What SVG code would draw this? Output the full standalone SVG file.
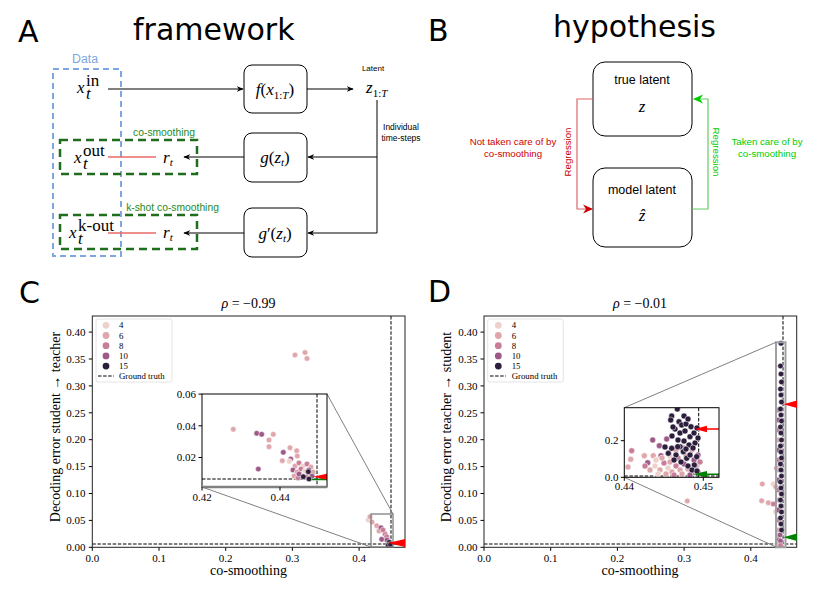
<svg xmlns="http://www.w3.org/2000/svg" width="830" height="596" viewBox="0 0 830 596">
<style>
.big{font-family:"DejaVu Sans",sans-serif;font-size:30px;fill:#000}
.sans{font-family:"Liberation Sans",Arial,sans-serif}
.m{font-family:"Liberation Serif","Times New Roman",serif;font-size:17px}
.i{font-style:italic}
.s{font-size:11px}
.box{fill:#fff;stroke:#000;stroke-width:1}
.ln{fill:none;stroke:#000;stroke-width:1}
.tk{font-family:"Liberation Serif","Times New Roman",serif;font-size:11px;fill:#000}
.lg{font-family:"Liberation Serif","Times New Roman",serif;font-size:8.8px;fill:#000}
.ax{font-family:"Liberation Serif","Times New Roman",serif;font-size:14px;fill:#000}
.frame{fill:none;stroke:#222;stroke-width:1}
.dash{fill:none;stroke:#000;stroke-width:1;stroke-dasharray:3.5 1.6}
.zoom{fill:none;stroke:#808080;stroke-width:1}
.c4{fill:#EDD1CB}
.c6{fill:#DFA7AB}
.c8{fill:#C87E98}
.c10{fill:#9D5A88}
.c15{fill:#2D1E3E}
.pts circle{stroke:#fff;stroke-width:0.5}
</style>
<defs>
<marker id="ah" viewBox="0 0 10 10" refX="9" refY="5" markerWidth="7" markerHeight="7" markerUnits="userSpaceOnUse" orient="auto"><path d="M0,1 L10,5 L0,9 L3,5 Z" fill="#000"/></marker>
<marker id="ahR" viewBox="0 0 10 10" refX="9" refY="5" markerWidth="10" markerHeight="10" markerUnits="userSpaceOnUse" orient="auto"><path d="M0,0.5 L10,5 L0,9.5 L3,5 Z" fill="#CC0000"/></marker>
<marker id="ahG" viewBox="0 0 10 10" refX="9" refY="5" markerWidth="10" markerHeight="10" markerUnits="userSpaceOnUse" orient="auto"><path d="M0,0.5 L10,5 L0,9.5 L3,5 Z" fill="#00CC00"/></marker>
<clipPath id="clipC"><rect x="92.3" y="316" width="312.7" height="231.3"/></clipPath>
<clipPath id="clipD"><rect x="484" y="316" width="312.7" height="231.3"/></clipPath>
<clipPath id="clipCi"><rect x="202" y="394" width="125" height="93"/></clipPath>
<clipPath id="clipDi"><rect x="624.3" y="407.7" width="94.7" height="69.6"/></clipPath>
</defs>
<rect width="830" height="596" fill="#fff"/>

<!-- Panel A -->
<text class="big" x="18" y="42">A</text>
<text class="big" x="133" y="40" font-size="31">framework</text>

<g id="data-group">
<rect x="53" y="69" width="68" height="187" fill="none" stroke="#7EA6E0" stroke-width="2" stroke-dasharray="6 4"/>
<text class="sans" x="85" y="63" font-size="12.3" fill="#7EA6E0" text-anchor="middle">Data</text>
</g>
<g id="cosmooth-group">
<rect x="60" y="140" width="137" height="34" fill="none" stroke="#1E6E1E" stroke-width="2.5" stroke-dasharray="8 5"/>
<text class="sans" x="164" y="136" font-size="10.3" fill="#1E8A1E" text-anchor="middle">co-smoothing</text>
</g>
<g id="kshot-group">
<rect x="60" y="215" width="137" height="34" fill="none" stroke="#1E6E1E" stroke-width="2.5" stroke-dasharray="8 5"/>
<text class="sans" x="172.5" y="211" font-size="10.3" fill="#1E8A1E" text-anchor="middle">k-shot co-smoothing</text>
</g>

<g id="connectors-A">
<path class="ln" d="M108,89 H243" marker-end="url(#ah)"/>
<path class="ln" d="M307,89 H353" marker-end="url(#ah)"/>
<path class="ln" d="M377,100 V233 H308" marker-end="url(#ah)"/>
<path class="ln" d="M377,157 H308" marker-end="url(#ah)"/>
<path class="ln" d="M244,157 H184" marker-end="url(#ah)"/>
<path class="ln" d="M244,233 H184" marker-end="url(#ah)"/>
<path d="M108,157 H156 M108,233 H156" fill="none" stroke="#EA6B66" stroke-width="1.3"/>
</g>

<g id="x-in">
<text class="m i" x="77" y="93">x</text>
<text class="m i" x="86" y="98.5" font-size="10.5">t</text>
<text class="m" x="86" y="85.5" font-size="11">in</text>
</g>
<g id="x-out">
<text class="m i" x="74" y="163">x</text>
<text class="m i" x="83" y="168.5" font-size="10.5">t</text>
<text class="m" x="83" y="155.5" font-size="11">out</text>
</g>
<g id="x-kout">
<text class="m i" x="69" y="238">x</text>
<text class="m i" x="78" y="243.5" font-size="10.5">t</text>
<text class="m" x="78" y="230.5" font-size="11">k-out</text>
</g>
<g id="r1"><text class="m" x="163" y="163"><tspan class="i">r</tspan><tspan class="s i" dy="3">t</tspan></text></g>
<g id="r2"><text class="m" x="163" y="238"><tspan class="i">r</tspan><tspan class="s i" dy="3">t</tspan></text></g>

<g id="f-node">
<rect class="box" x="244" y="65" width="63" height="48" rx="8"/>
<text class="m" x="275" y="95" text-anchor="middle"><tspan class="i">f</tspan>(<tspan class="i">x</tspan><tspan class="s" dy="4">1:</tspan><tspan class="s i">T</tspan><tspan dy="-4">)</tspan></text>
</g>
<g id="g-node">
<rect class="box" x="244" y="133" width="63" height="49" rx="8"/>
<text class="m" x="275" y="163" text-anchor="middle"><tspan class="i">g</tspan>(<tspan class="i">z</tspan><tspan class="s i" dy="3">t</tspan><tspan dy="-3">)</tspan></text>
</g>
<g id="gp-node">
<rect class="box" x="244" y="208" width="63" height="49" rx="8"/>
<text class="m" x="275" y="239" text-anchor="middle"><tspan class="i">g</tspan>′(<tspan class="i">z</tspan><tspan class="s i" dy="3">t</tspan><tspan dy="-3">)</tspan></text>
</g>
<g id="z-node">
<text class="sans" x="373" y="71" font-size="8" text-anchor="middle">Latent</text>
<text class="m" x="366" y="93"><tspan class="i">z</tspan><tspan class="s" dy="4">1:</tspan><tspan class="s i">T</tspan></text>
</g>
<g id="steps-label">
<text class="sans" x="401" y="130" font-size="8.5" text-anchor="middle">Individual</text>
<text class="sans" x="401" y="141" font-size="8.5" text-anchor="middle">time-steps</text>
</g>

<!-- Panel B -->
<text class="big" x="428" y="41">B</text>
<text class="big" x="553" y="37" font-size="32">hypothesis</text>

<g id="true-latent">
<rect class="box" x="593" y="62" width="99" height="74" rx="12"/>
<text class="sans" x="642" y="84" font-size="12.5" text-anchor="middle">true latent</text>
<text class="m i" x="642" y="112" font-size="14" text-anchor="middle">z</text>
</g>
<g id="model-latent">
<rect class="box" x="593" y="168" width="99" height="79" rx="12"/>
<text class="sans" x="642" y="194" font-size="12.5" text-anchor="middle">model latent</text>
<text class="m i" x="642" y="221" font-size="14" text-anchor="middle">ẑ</text>
</g>
<g id="connectors-B">
<path d="M593,99 H577 V209 H592" fill="none" stroke="#E06666" stroke-width="1.2" marker-end="url(#ahR)"/>
<path d="M692,209 H708 V99 H694" fill="none" stroke="#66CC66" stroke-width="1.2" marker-end="url(#ahG)"/>
<text class="sans" transform="translate(571,152) rotate(-90)" font-size="9.7" fill="#CC0000" text-anchor="middle">Regression</text>
<text class="sans" transform="translate(713,152) rotate(90)" font-size="9.7" fill="#00CC00" text-anchor="middle">Regression</text>
<text class="sans" x="513" y="145" font-size="9.7" fill="#CC0000" text-anchor="middle">Not taken care of by</text>
<text class="sans" x="513" y="157" font-size="9.7" fill="#CC0000" text-anchor="middle">co-smoothing</text>
<text class="sans" x="767" y="145" font-size="9.7" fill="#00CC00" text-anchor="middle">Taken care of by</text>
<text class="sans" x="767" y="157" font-size="9.7" fill="#00CC00" text-anchor="middle">co-smoothing</text>
</g>

<!-- Panel C -->
<text class="big" x="19" y="303">C</text>
<g id="plotC">
<text class="ax" x="248.5" y="307.5" text-anchor="middle"><tspan class="i">ρ</tspan> = −0.99</text>
<text class="ax" x="248.5" y="575" text-anchor="middle">co-smoothing</text>
<text class="ax" transform="translate(59.5,427) rotate(-90)" text-anchor="middle" font-size="13.6">Decoding error student → teacher</text>
<path class="ln" d="M88.8,547.3H92.3M88.8,520.4H92.3M88.8,493.5H92.3M88.8,466.6H92.3M88.8,439.7H92.3M88.8,412.8H92.3M88.8,385.9H92.3M88.8,359H92.3M88.8,332.1H92.3M92.3,547.3V550.8M159,547.3V550.8M225.7,547.3V550.8M292.4,547.3V550.8M359.1,547.3V550.8"/>
<g class="tk" text-anchor="end">
<text x="85.5" y="551">0.00</text><text x="85.5" y="524.1">0.05</text><text x="85.5" y="497.2">0.10</text><text x="85.5" y="470.3">0.15</text><text x="85.5" y="443.4">0.20</text><text x="85.5" y="416.5">0.25</text><text x="85.5" y="389.6">0.30</text><text x="85.5" y="362.7">0.35</text><text x="85.5" y="335.8">0.40</text>
</g>
<g class="tk" text-anchor="middle">
<text x="92.3" y="561.5">0.0</text><text x="159" y="561.5">0.1</text><text x="225.7" y="561.5">0.2</text><text x="292.4" y="561.5">0.3</text><text x="359.1" y="561.5">0.4</text>
</g>
<g clip-path="url(#clipC)">
<path class="dash" d="M92.3,544 H405 M391,316 V547.3"/>
<g class="pts">
<circle class="c6" cx="295" cy="355" r="2.8"/><circle class="c6" cx="305" cy="352.5" r="2.8"/><circle class="c6" cx="307" cy="358.5" r="2.8"/>
<circle class="c4" cx="368.3" cy="520" r="2.8"/><circle class="c6" cx="370" cy="516.7" r="2.8"/><circle class="c6" cx="376.7" cy="525.7" r="2.8"/><circle class="c6" cx="372" cy="522" r="2.8"/><circle class="c6" cx="379" cy="531" r="2.8"/>
<circle class="c10" cx="381" cy="527.7" r="2.8"/><circle class="c8" cx="385" cy="534" r="2.8"/><circle class="c8" cx="383" cy="530" r="2.8"/><circle class="c10" cx="381.7" cy="539.3" r="2.8"/><circle class="c8" cx="386.7" cy="536.7" r="2.8"/><circle class="c10" cx="387" cy="540" r="2.8"/>
<circle class="c15" cx="389.3" cy="542.3" r="2.8"/><circle class="c15" cx="388.3" cy="545.3" r="2.8"/><circle class="c15" cx="390.5" cy="544.5" r="2.8"/>
</g>
</g>
<rect class="frame" x="92.3" y="316" width="312.7" height="231.3"/>
<rect x="371" y="514" width="22" height="33" fill="none" stroke="#808080" stroke-width="1.3"/>
<polygon points="388,543 405,539 405,547" fill="#FF0000"/>
<path class="zoom" d="M327,394 L393,514 M202,487 L371,547"/>
<g id="insetC">
<rect x="202" y="394" width="125" height="93" fill="#fff"/>
<g clip-path="url(#clipCi)">
<path class="dash" d="M202,479 H327 M317,394 V487"/>
<g class="pts">
<circle class="c6" cx="233.3" cy="429.3" r="2.8"/><circle class="c10" cx="256.7" cy="433.3" r="2.8"/><circle class="c10" cx="261.7" cy="434.3" r="2.8"/><circle class="c6" cx="273.3" cy="434.3" r="2.8"/><circle class="c6" cx="269" cy="440" r="2.8"/><circle class="c6" cx="269" cy="446.7" r="2.8"/><circle class="c10" cx="258.3" cy="469" r="2.8"/><circle class="c6" cx="290" cy="447.7" r="2.8"/><circle class="c10" cx="283.3" cy="452.3" r="2.8"/><circle class="c6" cx="296.7" cy="450.7" r="2.8"/><circle class="c6" cx="282.3" cy="460.7" r="2.8"/><circle class="c10" cx="290.7" cy="459" r="2.8"/><circle class="c6" cx="297.3" cy="456" r="2.8"/><circle class="c4" cx="289.3" cy="461.3" r="2.8"/>
<circle class="c6" cx="295" cy="466" r="2.8"/><circle class="c8" cx="299" cy="463" r="2.8"/><circle class="c4" cx="303" cy="466" r="2.8"/><circle class="c8" cx="307" cy="464" r="2.8"/><circle class="c6" cx="311" cy="467" r="2.8"/><circle class="c10" cx="293" cy="470" r="2.8"/><circle class="c6" cx="297" cy="472" r="2.8"/><circle class="c8" cx="301" cy="469" r="2.8"/><circle class="c4" cx="305" cy="471" r="2.8"/><circle class="c10" cx="309" cy="470" r="2.8"/><circle class="c6" cx="313" cy="472" r="2.8"/><circle class="c6" cx="294" cy="476" r="2.8"/><circle class="c8" cx="298" cy="478" r="2.8"/><circle class="c4" cx="302" cy="475" r="2.8"/><circle class="c10" cx="312" cy="476" r="2.8"/><circle class="c8" cx="306" cy="477" r="2.8"/><circle class="c10" cx="299" cy="474" r="2.8"/>
<circle class="c15" cx="303.3" cy="476.7" r="2.8"/><circle class="c15" cx="309" cy="479" r="2.8"/><circle class="c15" cx="308.3" cy="471.7" r="2.8"/>
</g>
<path d="M312,479.5 H327" stroke="#008000" stroke-width="1.5"/>
<polygon points="313,476.7 328,473.5 328,480" fill="#FF0000"/>
</g>
<rect x="202" y="394" width="125" height="93" fill="none" stroke="#000" stroke-width="1"/>
<path d="M202,487 H327" stroke="#808080" stroke-width="2.5"/>
<path class="ln" d="M198.5,394.1H202M198.5,425.8H202M198.5,457.5H202M202,487V490.5M280,487V490.5"/>
<g class="tk" text-anchor="end"><text x="196" y="398">0.06</text><text x="196" y="429.7">0.04</text><text x="196" y="461.4">0.02</text></g>
<g class="tk" text-anchor="middle"><text x="202" y="501">0.42</text><text x="280" y="501">0.44</text></g>
</g>
<g id="legendC">
<rect x="96" y="319" width="76" height="63" fill="#fff" stroke="#ddd" stroke-width="0.8" rx="2"/>
<circle class="c4" cx="106" cy="325.3" r="3.4"/><circle class="c6" cx="106" cy="335.5" r="3.4"/><circle class="c8" cx="106" cy="345.7" r="3.4"/><circle class="c10" cx="106" cy="355.9" r="3.4"/><circle class="c15" cx="106" cy="366.1" r="3.4"/>
<path class="dash" d="M98,376 H114" stroke-dasharray="2.5 1.2"/>
<text class="lg" x="119" y="328.3">4</text><text class="lg" x="119" y="338.5">6</text><text class="lg" x="119" y="348.7">8</text><text class="lg" x="119" y="358.9">10</text><text class="lg" x="119" y="369.1">15</text><text class="lg" x="119" y="379">Ground truth</text>
</g>
</g>

<!-- Panel D -->
<text class="big" x="428" y="302">D</text>
<g id="plotD">
<text class="ax" x="640" y="307.5" text-anchor="middle"><tspan class="i">ρ</tspan> = −0.01</text>
<text class="ax" x="640" y="575" text-anchor="middle">co-smoothing</text>
<text class="ax" transform="translate(451,427) rotate(-90)" text-anchor="middle" font-size="13.6">Decoding error teacher → student</text>
<path class="ln" d="M480.5,547.3H484M480.5,520.4H484M480.5,493.5H484M480.5,466.6H484M480.5,439.7H484M480.5,412.8H484M480.5,385.9H484M480.5,359H484M480.5,332.1H484M484,547.3V550.8M550.7,547.3V550.8M617.4,547.3V550.8M684.1,547.3V550.8M750.8,547.3V550.8"/>
<g class="tk" text-anchor="end">
<text x="477.5" y="551">0.00</text><text x="477.5" y="524.1">0.05</text><text x="477.5" y="497.2">0.10</text><text x="477.5" y="470.3">0.15</text><text x="477.5" y="443.4">0.20</text><text x="477.5" y="416.5">0.25</text><text x="477.5" y="389.6">0.30</text><text x="477.5" y="362.7">0.35</text><text x="477.5" y="335.8">0.40</text>
</g>
<g class="tk" text-anchor="middle">
<text x="484" y="561.5">0.0</text><text x="550.7" y="561.5">0.1</text><text x="617.4" y="561.5">0.2</text><text x="684.1" y="561.5">0.3</text><text x="750.8" y="561.5">0.4</text>
</g>
<g clip-path="url(#clipD)">
<path class="dash" d="M484,544 H796.7 M783,316 V547.3"/>
<g class="pts">
<circle class="c6" cx="687.3" cy="501" r="2.8"/>
<circle class="c6" cx="762.3" cy="484" r="2.8"/><circle class="c4" cx="773.3" cy="484" r="2.8"/><circle class="c6" cx="775.7" cy="486.7" r="2.8"/><circle class="c6" cx="761.7" cy="500.7" r="2.8"/><circle class="c6" cx="768.3" cy="502.7" r="2.8"/><circle class="c8" cx="773.3" cy="504" r="2.8"/><circle class="c4" cx="775.7" cy="511.7" r="2.8"/><circle class="c8" cx="776.7" cy="468.3" r="2.8"/>
<circle class="c8" cx="778" cy="410" r="2.8"/><circle class="c10" cx="778" cy="420" r="2.8"/><circle class="c8" cx="778" cy="430" r="2.8"/><circle class="c6" cx="778" cy="440" r="2.8"/><circle class="c10" cx="778" cy="450" r="2.8"/><circle class="c8" cx="778" cy="460" r="2.8"/><circle class="c6" cx="778" cy="470" r="2.8"/><circle class="c10" cx="778" cy="480" r="2.8"/><circle class="c8" cx="778" cy="490" r="2.8"/><circle class="c6" cx="778" cy="500" r="2.8"/><circle class="c10" cx="778" cy="510" r="2.8"/><circle class="c8" cx="778" cy="520" r="2.8"/><circle class="c6" cx="778" cy="530" r="2.8"/><circle class="c8" cx="778.5" cy="536" r="2.8"/><circle class="c10" cx="779" cy="540" r="2.8"/><circle class="c6" cx="778.5" cy="544" r="2.8"/><circle class="c10" cx="780" cy="535" r="2.8"/><circle class="c10" cx="780.5" cy="541" r="2.8"/><circle class="c8" cx="780.5" cy="545.5" r="2.8"/>
<circle class="c15" cx="781" cy="343.3" r="2.8"/><circle class="c15" cx="780.5" cy="366" r="2.8"/><circle class="c15" cx="781" cy="374" r="2.8"/><circle class="c15" cx="781.5" cy="382" r="2.8"/><circle class="c15" cx="780.5" cy="389" r="2.8"/><circle class="c15" cx="781" cy="395" r="2.8"/><circle class="c15" cx="781.5" cy="402" r="2.8"/><circle class="c15" cx="780.5" cy="409" r="2.8"/><circle class="c15" cx="781" cy="415" r="2.8"/><circle class="c15" cx="781.5" cy="421" r="2.8"/><circle class="c15" cx="780.5" cy="427" r="2.8"/><circle class="c15" cx="781" cy="433" r="2.8"/><circle class="c15" cx="781.5" cy="440" r="2.8"/><circle class="c15" cx="780.5" cy="446" r="2.8"/><circle class="c15" cx="781" cy="452" r="2.8"/><circle class="c15" cx="781.5" cy="458" r="2.8"/><circle class="c15" cx="780.5" cy="464" r="2.8"/><circle class="c15" cx="781" cy="470" r="2.8"/><circle class="c15" cx="781.5" cy="476" r="2.8"/><circle class="c15" cx="780.5" cy="482" r="2.8"/><circle class="c15" cx="781" cy="488" r="2.8"/><circle class="c15" cx="781.5" cy="494" r="2.8"/><circle class="c15" cx="780.5" cy="500" r="2.8"/><circle class="c15" cx="781" cy="506" r="2.8"/><circle class="c15" cx="781.5" cy="512" r="2.8"/><circle class="c15" cx="780.5" cy="518" r="2.8"/><circle class="c15" cx="781" cy="524" r="2.8"/><circle class="c15" cx="781.5" cy="530" r="2.8"/>
</g>
</g>
<rect class="frame" x="484" y="316" width="312.7" height="231.3"/>
<rect x="776" y="342.3" width="9.5" height="205" fill="none" stroke="#A0A0A0" stroke-width="2"/>
<polygon points="783.3,404.3 797,400.5 797,408" fill="#FF0000"/>
<polygon points="783.3,537.3 797,533.5 797,541" fill="#008000"/>
<path class="zoom" d="M624.3,407.7 L776,342.3 M624.3,477.3 L776,547"/>
<g id="insetD">
<rect x="624.3" y="407.7" width="94.7" height="69.6" fill="#fff"/>
<g clip-path="url(#clipDi)">
<path class="dash" d="M624.3,476 H719 M698.7,407.7 V477.3"/>
<g class="pts">
<circle class="c6" cx="630.7" cy="459.3" r="3"/><circle class="c6" cx="644.3" cy="455.7" r="3"/><circle class="c6" cx="653.3" cy="455.7" r="3"/><circle class="c6" cx="628" cy="467" r="3"/><circle class="c8" cx="631.7" cy="450.7" r="3"/><circle class="c10" cx="647.7" cy="462.7" r="3"/><circle class="c10" cx="652.7" cy="440" r="3"/><circle class="c10" cx="659.3" cy="445.7" r="3"/><circle class="c10" cx="661" cy="455.7" r="3"/><circle class="c10" cx="666.7" cy="439" r="3"/><circle class="c8" cx="645" cy="466" r="3"/>
<circle class="c4" cx="655" cy="466" r="3"/><circle class="c6" cx="660" cy="470" r="3"/><circle class="c8" cx="664" cy="463" r="3"/><circle class="c4" cx="668" cy="468" r="3"/><circle class="c6" cx="672" cy="472" r="3"/><circle class="c8" cx="676" cy="466" r="3"/><circle class="c6" cx="680" cy="470" r="3"/><circle class="c10" cx="684" cy="464" r="3"/><circle class="c6" cx="688" cy="469" r="3"/><circle class="c8" cx="692" cy="473" r="3"/><circle class="c6" cx="696" cy="466" r="3"/><circle class="c4" cx="658" cy="474" r="3"/><circle class="c6" cx="666" cy="474" r="3"/><circle class="c8" cx="674" cy="475" r="3"/><circle class="c6" cx="682" cy="474" r="3"/><circle class="c10" cx="690" cy="475" r="3"/><circle class="c8" cx="698" cy="472" r="3"/><circle class="c6" cx="662" cy="458" r="3"/><circle class="c4" cx="670" cy="456" r="3"/><circle class="c8" cx="678" cy="458" r="3"/><circle class="c6" cx="686" cy="456" r="3"/><circle class="c10" cx="694" cy="460" r="3"/><circle class="c8" cx="700" cy="462" r="3"/><circle class="c6" cx="650" cy="470" r="3"/><circle class="c4" cx="656" cy="460" r="3"/><circle class="c6" cx="670" cy="462" r="3"/><circle class="c8" cx="684" cy="448" r="3"/><circle class="c6" cx="692" cy="450" r="3"/><circle class="c10" cx="698" cy="455" r="3"/><circle class="c6" cx="676" cy="450" r="3"/>
<circle class="c15" cx="677.3" cy="409" r="3"/><circle class="c15" cx="671.7" cy="416" r="3"/><circle class="c15" cx="670.7" cy="420" r="3"/><circle class="c15" cx="679" cy="421.7" r="3"/><circle class="c15" cx="681.7" cy="425" r="3"/><circle class="c15" cx="686" cy="424" r="3"/><circle class="c15" cx="691" cy="426.7" r="3"/><circle class="c15" cx="675" cy="429" r="3"/><circle class="c15" cx="680" cy="433" r="3"/><circle class="c15" cx="685" cy="431" r="3"/><circle class="c15" cx="690" cy="436.7" r="3"/><circle class="c15" cx="694" cy="433" r="3"/><circle class="c15" cx="672" cy="436" r="3"/><circle class="c15" cx="678" cy="440" r="3"/><circle class="c15" cx="684" cy="441" r="3"/><circle class="c15" cx="689" cy="445" r="3"/><circle class="c15" cx="695" cy="443" r="3"/><circle class="c15" cx="680" cy="446.7" r="3"/><circle class="c15" cx="683.3" cy="451.7" r="3"/><circle class="c15" cx="686.7" cy="458.3" r="3"/><circle class="c15" cx="690" cy="455" r="3"/><circle class="c15" cx="694.3" cy="465" r="3"/><circle class="c15" cx="696.7" cy="456.7" r="3"/><circle class="c15" cx="677.7" cy="446.7" r="3"/><circle class="c15" cx="671.7" cy="448.3" r="3"/><circle class="c15" cx="668.3" cy="453.3" r="3"/><circle class="c15" cx="676" cy="455" r="3"/><circle class="c15" cx="681" cy="462" r="3"/><circle class="c15" cx="688" cy="466" r="3"/><circle class="c15" cx="692" cy="470" r="3"/><circle class="c15" cx="697" cy="471" r="3"/><circle class="c15" cx="674" cy="460" r="3"/><circle class="c15" cx="665" cy="447" r="3"/><circle class="c15" cx="686" cy="449" r="3"/><circle class="c15" cx="693" cy="448" r="3"/><circle class="c15" cx="698" cy="438" r="3"/><circle class="c15" cx="697" cy="428" r="3"/><circle class="c15" cx="684" cy="416" r="3"/><circle class="c15" cx="688" cy="419" r="3"/><circle class="c15" cx="673" cy="427" r="3"/>
</g>
<path d="M706,429 H719" stroke="#FF0000" stroke-width="1.5"/>
<polygon points="694.5,429 707,425.7 707,432.3" fill="#FF0000"/>
<path d="M706,474.3 H719" stroke="#008000" stroke-width="1.5"/>
<polygon points="693.3,474.3 707,471 707,477.6" fill="#008000"/>
</g>
<rect x="624.3" y="407.7" width="94.7" height="69.6" fill="none" stroke="#000" stroke-width="1"/>
<path class="ln" d="M620.8,477.3H624.3M620.8,440.7H624.3M624.3,477.3V480.8M703.3,477.3V480.8"/>
<g class="tk" text-anchor="end"><text x="618.5" y="481">0.0</text><text x="618.5" y="444.4">0.2</text></g>
<g class="tk" text-anchor="middle"><text x="624.3" y="490">0.44</text><text x="703.3" y="490">0.45</text></g>
</g>
<g id="legendD">
<rect x="487.7" y="319" width="75.6" height="63" fill="#fff" stroke="#ddd" stroke-width="0.8" rx="2"/>
<circle class="c4" cx="498.3" cy="325.3" r="3.4"/><circle class="c6" cx="498.3" cy="335.5" r="3.4"/><circle class="c8" cx="498.3" cy="345.7" r="3.4"/><circle class="c10" cx="498.3" cy="355.9" r="3.4"/><circle class="c15" cx="498.3" cy="366.1" r="3.4"/>
<path class="dash" d="M490,376 H506" stroke-dasharray="2.5 1.2"/>
<text class="lg" x="511.7" y="328.3">4</text><text class="lg" x="511.7" y="338.5">6</text><text class="lg" x="511.7" y="348.7">8</text><text class="lg" x="511.7" y="358.9">10</text><text class="lg" x="511.7" y="369.1">15</text><text class="lg" x="511.7" y="379">Ground truth</text>
</g>
</g>
</svg>
